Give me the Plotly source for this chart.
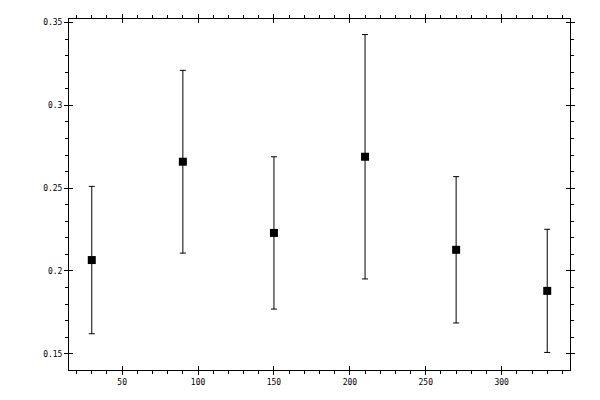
import plotly.graph_objects as go

angle = [30, 90, 150, 210, 270, 330]
value = [0.2066, 0.2660, 0.2230, 0.2690, 0.2128, 0.1880]
err = [0.0445, 0.0552, 0.0460, 0.0738, 0.0442, 0.0372]

x_range = [15, 345]
y_range = [0.1402, 0.3522]

fig = go.Figure()
fig.add_trace(go.Scatter(
    x=angle,
    y=value,
    mode="markers",
    marker=dict(symbol="square", size=8, color="black"),
    error_y=dict(type="data", array=err, visible=True,
                 color="black", thickness=1, width=3),
    showlegend=False,
))

font = dict(family="DejaVu Sans Mono", size=8, color="black")

# outer ticks with labels
fig.update_xaxes(
    range=x_range, dtick=50, tick0=0,
    ticks="outside", ticklen=4, tickwidth=1, tickcolor="black",
    minor=dict(dtick=10, ticks="outside", ticklen=3, tickcolor="black"),
    showline=True, linecolor="black", linewidth=1, mirror="ticks",
    showgrid=False, zeroline=False, tickfont=font, automargin=False,
)
fig.update_yaxes(
    range=y_range, dtick=0.05, tick0=0,
    ticks="outside", ticklen=4, tickwidth=1, tickcolor="black",
    minor=dict(dtick=0.01, ticks="outside", ticklen=3, tickcolor="black"),
    showline=True, linecolor="black", linewidth=1, mirror="ticks",
    showgrid=False, zeroline=False, tickfont=font, automargin=False,
)

# inner half of the major ticks, so they cross the frame
fig.update_layout(
    xaxis2=dict(overlaying="x", range=x_range, dtick=50, tick0=0,
                ticks="inside", ticklen=4, tickcolor="black", mirror="ticks",
                showticklabels=False, showgrid=False, zeroline=False,
                showline=False, automargin=False),
    yaxis2=dict(overlaying="y", range=y_range, dtick=0.05, tick0=0,
                ticks="inside", ticklen=4, tickcolor="black", mirror="ticks",
                showticklabels=False, showgrid=False, zeroline=False,
                showline=False, automargin=False),
)
fig.add_trace(go.Scatter(x=[], y=[], xaxis="x2", yaxis="y2", showlegend=False))

# the page adds an 8px body margin, so shift the frame up and left
fig.update_layout(
    width=600, height=400,
    margin=dict(l=61, r=38, t=11, b=38, autoexpand=False),
    paper_bgcolor="white", plot_bgcolor="white",
)

fig.write_html("out.html")
